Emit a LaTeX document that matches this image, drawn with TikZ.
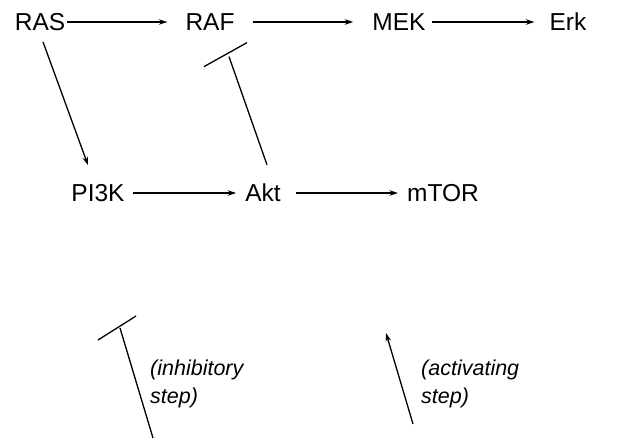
\documentclass[tikz,border=0pt]{standalone}
\usepackage{fontspec}
\setmainfont{Liberation Sans}
\usetikzlibrary{arrows.meta}
\begin{document}
\begin{tikzpicture}[x={(1pt,0)}, y={(0,-1pt)},
  protein/.style={inner sep=0pt, font=\fontsize{24.5}{29}\selectfont},
  note/.style={inner sep=0pt, anchor=base west, font=\fontsize{21.5}{26}\selectfont\itshape},
  act/.style={line width=1.3pt, -{Stealth[length=8.5pt,width=5.5pt]}},
  inh/.style={line width=1.3pt}]
\useasboundingbox (0,0) rectangle (617,440);

% pathway members
\node[protein] (ras)  at (40,22)  {RAS};
\node[protein] (raf)  at (210,22) {RAF};
\node[protein] (mek)  at (399,22) {MEK};
\node[protein] (erk)  at (568,22) {Erk};
\node[protein] (pi3k) at (98,193) {PI3K};
\node[protein] (akt)  at (263,193) {Akt};
\node[protein] (mtor) at (443,193) {mTOR};

% activating steps
\draw[act] ([xshift=2pt]ras.east)  -- ([xshift=-18pt]raf.west);
\draw[act] ([xshift=18pt]raf.east) -- ([xshift=-19pt]mek.west);
\draw[act] ([xshift=6pt]mek.east)  -- ([xshift=-15pt]erk.west);
\draw[act] ([xshift=8pt]pi3k.east) -- ([xshift=-9pt]akt.west);
\draw[act] ([xshift=15pt]akt.east) -- ([xshift=-9pt]mtor.west);
\draw[act] ([xshift=3pt,yshift=-11pt]ras.south) -- ([xshift=-10pt,yshift=19pt]pi3k.north);

% inhibitory step: Akt blocks RAF, with its tee bar
\draw[inh] ([xshift=4pt,yshift=19pt]akt.north) -- ([xshift=19pt,yshift=-26pt]raf.south) coordinate (teeraf);
\draw[inh] ([xshift=-25pt,yshift=-10pt]teeraf) -- ([xshift=18pt,yshift=14pt]teeraf);

% key
\coordinate (inhfoot) at (153,438);
\coordinate (inhhead) at (120,328);
\draw[inh] (inhfoot) -- (inhhead);
\draw[inh] ([xshift=-22pt,yshift=-12pt]inhhead) -- ([xshift=16pt,yshift=12pt]inhhead);
\node[note] (inhtxt1) at (150,375) {(inhibitory};
\node[note] (inhtxt2) at (150,403) {step)};

\coordinate (actfoot) at (413,424);
\coordinate (acthead) at (386,333);
\draw[act] (actfoot) -- (acthead);
\node[note] (acttxt1) at (421,375) {(activating};
\node[note] (acttxt2) at (421,403) {step)};
\end{tikzpicture}
\end{document}
